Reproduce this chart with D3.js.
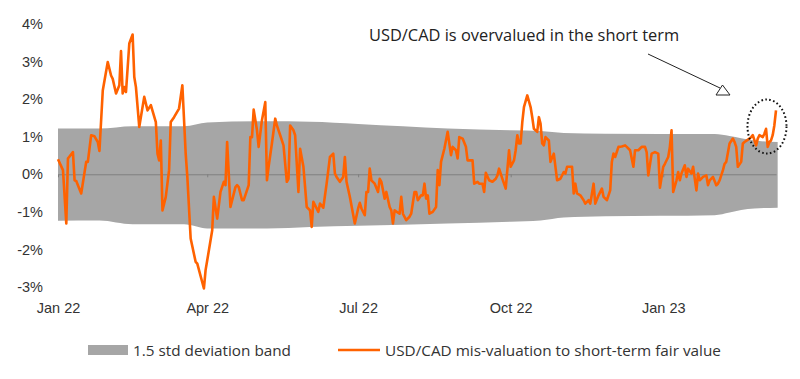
<!DOCTYPE html>
<html>
<head>
  <meta charset="utf-8">
  <title>USD/CAD mis-valuation</title>
  <script src="https://d3js.org/d3.v7.min.js"></script>
  <style>
    body, html { margin: 0; padding: 0; background: #fff; }
    svg { display: block; font-family: "Open Sans", sans-serif; }
    .lbl { fill: #333; font-size: 14.5px; }
    .leg { fill: #333; font-size: 15.3px; }
  </style>
</head>
<body>
<svg width="800" height="379"></svg>
<script>
  // Data: days since 1 Jan 2022, value in %
  const startDate = Date.UTC(2022, 0, 1);

  const lineDays = [0,3,5,6,9,10,11,14,17,18,20,22,24,25,27,30,32,33,35,37,38,39,40,41,43,45,46,47,49,52,54,56,59,60,61,62,63,65,67,68,70,73,
    75,77,78,80,83,84,88,89,90,93,94,96,98,100,101,102,104,107,108,109,111,112,115,116,117,118,120,121,123,125,126,127,129,131,132,134,136,138,139,140,142,143,145,146,
    148,150,152,153,154,157,158,160,162,164,166,167,168,170,172,173,174,176,179,181,182,183,185,186,187,188,189,191,193,194,195,197,198,200,201,202,203,206,207,208,210,212,213,215,216,217,219,
    220,221,222,223,224,226,228,229,230,231,233,235,237,238,240,241,242,244,246,247,250,251,253,254,256,257,258,260,262,264,265,266,268,269,270,272,273,275,276,277,278,279,280,281,283,285,286,287,289,290,291,
    292,293,294,296,297,299,301,303,305,306,307,310,311,312,313,315,317,318,320,321,323,324,326,328,329,331,333,334,335,336,338,340,342,343,345,347,348,350,352,354,355,356,358,360,362,
    363,365,366,368,369,370,371,373,374,375,376,378,379,380,382,383,385,386,387,389,391,392,393,395,397,398,399,401,402,403,405,407,408,409,410,412,413,414,415,417,418,419,421,422,423,425,426,427,428,429,430,431,432,433];

  const lineValues = [0.40,0.11,-1.31,0.42,0.59,-0.16,-0.18,-0.51,0.33,0.33,1.04,1.01,0.86,0.62,2.23,2.99,2.63,2.54,2.15,2.37,3.28,2.15,2.32,2.19,3.48,3.72,2.59,2.32,1.26,2.06,1.70,1.84,1.39,0.55,0.37,0.90,-0.96,-0.60,0.11,1.39,1.52,1.75,
    2.37,0.55,-0.07,-1.71,-2.33,-2.38,-3.04,-2.55,-2.29,-1.49,-0.60,-1.18,-0.47,-0.20,-0.29,0.86,-0.87,-0.34,-0.29,-0.34,-0.69,-0.69,-0.29,0.99,0.99,1.72,1.17,0.73,1.44,1.92,-0.16,0.20,0.82,1.48,1.30,1.04,0.77,-0.20,-0.12,1.30,1.17,1.04,-0.47,0.68,
    0.20,-0.87,-0.96,-1.40,-0.73,-1.00,-0.78,-0.89,-0.25,0.46,0.55,0.02,-0.07,-0.20,-0.07,0.46,-0.20,-0.60,-1.31,-0.91,-0.76,-0.91,-1.09,-0.47,-0.47,0.15,-0.16,-0.25,-0.47,-0.12,-0.20,-0.65,-0.47,-0.87,-0.96,-1.31,-0.96,-1.05,-0.60,-1.05,-1.22,-1.13,-1.05,-0.47,-0.47,-0.69,-0.56,
    -0.56,-0.25,-0.65,-0.56,-1.05,-1.00,-0.87,0.11,-0.29,0.33,0.68,1.13,0.51,0.73,0.64,0.42,0.99,0.95,0.73,0.37,0.37,-0.25,-0.20,-0.25,-0.25,-0.47,0.04,-0.16,-0.20,-0.12,-0.03,0.15,-0.12,-0.25,-0.38,0.64,0.20,0.37,0.64,1.04,0.82,0.82,1.39,1.79,2.10,1.79,1.52,1.21,1.13,1.52,1.35,
    0.82,0.77,0.99,0.90,0.33,0.55,-0.16,-0.12,0.06,0.02,0.20,0.20,-0.51,-0.25,-0.51,-0.56,-0.69,-0.78,-0.69,-0.78,-0.25,-0.78,-0.56,-0.38,-0.60,-0.69,-0.43,0.33,0.55,0.46,0.73,0.74,0.77,0.73,0.64,0.20,0.64,0.64,0.73,0.73,0.59,-0.03,0.55,0.59,0.55,
    -0.36,0.20,0.28,0.46,0.73,1.17,-0.47,-0.16,0.06,-0.16,0.02,0.24,-0.07,0.15,0.02,0.20,-0.43,0.02,-0.16,-0.07,-0.03,-0.29,-0.16,-0.07,-0.29,-0.25,-0.16,0.11,0.28,0.33,0.82,0.95,0.86,0.73,0.20,0.33,0.82,0.86,0.89,0.95,0.99,1.04,0.77,0.95,1.04,0.99,1.08,1.21,0.73,0.86,0.90,1.04,1.30,1.70];

  const bandDays  = [0, 25, 45, 76, 90, 126, 152, 181, 235, 273, 291, 305, 330, 396, 405, 412, 420, 434];
  const bandUpper = [1.22, 1.22, 1.28, 1.28, 1.38, 1.41, 1.40, 1.34, 1.22, 1.17, 1.15, 1.10, 1.08, 1.07, 1.02, 0.96, 0.90, 0.86];
  const bandLower = [-1.24, -1.23, -1.33, -1.33, -1.44, -1.44, -1.40, -1.37, -1.31, -1.26, -1.23, -1.15, -1.12, -1.09, -1.02, -0.95, -0.91, -0.89];

  const yTicks = [-3, -2, -1, 0, 1, 2, 3, 4];
  const xTickDates = ["2022-01-01", "2022-04-01", "2022-07-01", "2022-10-01", "2023-01-01"];
  const xTickLabels = ["Jan 22", "Apr 22", "Jul 22", "Oct 22", "Jan 23"];

  const legendLabels = ["1.5 std deviation band", "USD/CAD mis-valuation to short-term fair value"];
  const annotation = "USD/CAD is overvalued in the short term";

  const dayToDate = d => d3.utcDay.offset(new Date(startDate), d);

  const svg = d3.select("svg");

  const x = d3.scaleUtc()
    .domain([new Date(startDate), dayToDate(433)])
    .range([58, 776]);
  const y = d3.scaleLinear().domain([-3, 4]).range([287, 24]);

  // band
  const band = bandDays.map((d, i) => ({ date: dayToDate(d), hi: bandUpper[i], lo: bandLower[i] }));
  svg.append("path")
    .datum(band)
    .attr("fill", "#a6a6a6")
    .attr("d", d3.area()
      .x(d => x(d.date))
      .y0(d => y(d.lo))
      .y1(d => y(d.hi))
      .curve(d3.curveMonotoneX));

  // zero line with small ticks
  const zeroAxis = svg.append("g")
    .attr("transform", `translate(0,${y(0)})`)
    .call(d3.axisBottom(x)
      .tickValues(xTickDates.map(s => new Date(s + "T00:00:00Z")))
      .tickSize(3)
      .tickSizeOuter(0)
      .tickFormat(""));
  zeroAxis.select(".domain").attr("stroke", "#7f7f7f").attr("stroke-width", 1);
  zeroAxis.selectAll(".tick line").attr("stroke", "#7f7f7f");

  // x labels
  const xLab = svg.append("g")
    .attr("transform", "translate(0,300)")
    .call(d3.axisBottom(x)
      .tickValues(xTickDates.map(s => new Date(s + "T00:00:00Z")))
      .tickSize(0)
      .tickFormat((d, i) => xTickLabels[i]));
  xLab.select(".domain").remove();
  xLab.selectAll("text").attr("class", "lbl").attr("font-family", null).attr("font-size", null).attr("dy", "0.71em");

  // y labels
  const yAx = svg.append("g")
    .attr("transform", "translate(43,0)")
    .call(d3.axisLeft(y).tickValues(yTicks).tickSize(0).tickFormat(d => d + "%"));
  yAx.select(".domain").remove();
  yAx.selectAll("text").attr("class", "lbl").attr("font-family", null).attr("font-size", null).attr("x", 0);

  // orange series
  const pts = lineDays.map((d, i) => ({ date: dayToDate(d), v: lineValues[i] }));
  svg.append("path")
    .datum(pts)
    .attr("fill", "none")
    .attr("stroke", "#ff6200")
    .attr("stroke-width", 2.6)
    .attr("stroke-linejoin", "round")
    .attr("d", d3.line().x(d => x(d.date)).y(d => y(d.v)));

  // annotation
  svg.append("text")
    .attr("x", 369).attr("y", 41)
    .attr("fill", "#222")
    .attr("font-size", 16.4)
    .text(annotation);

  svg.append("line")
    .attr("x1", 648).attr("y1", 54).attr("x2", 720).attr("y2", 88)
    .attr("stroke", "#222").attr("stroke-width", 1);
  svg.append("path")
    .attr("d", "M716,95 L730,95 L722.5,85 Z")
    .attr("fill", "#fff").attr("stroke", "#222").attr("stroke-width", 1);

  svg.append("ellipse")
    .attr("cx", 767).attr("cy", 126.5).attr("rx", 19.5).attr("ry", 27)
    .attr("fill", "none")
    .attr("stroke", "#111")
    .attr("stroke-width", 2)
    .attr("stroke-dasharray", "1.6,2.4");

  // legend
  const leg = svg.append("g").attr("transform", "translate(0,350)");
  leg.append("rect").attr("x", 88).attr("y", -5).attr("width", 40).attr("height", 10).attr("fill", "#a6a6a6");
  leg.append("text").attr("class", "leg").attr("x", 133).attr("y", 5.5).text(legendLabels[0]);
  leg.append("line").attr("x1", 338).attr("x2", 380).attr("y1", 0).attr("y2", 0)
    .attr("stroke", "#ff6200").attr("stroke-width", 2.6);
  leg.append("text").attr("class", "leg").attr("x", 385).attr("y", 5.5).text(legendLabels[1]);
</script>
</body>
</html>
